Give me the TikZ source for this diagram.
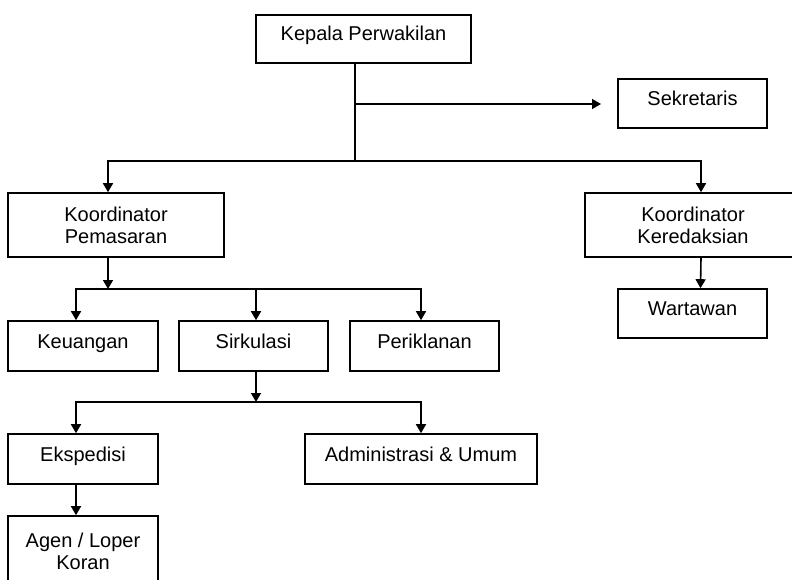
\documentclass[tikz,border=0pt]{standalone}
\usepackage{fontspec}
\setmainfont{Liberation Sans}
\usetikzlibrary{arrows.meta}

\begin{document}
\begin{tikzpicture}[
    x=1pt, y=-1pt,
    >={Triangle[length=9pt, width=10pt]},
    line join=miter,
    boxbase/.style={draw, line width=1.6pt, inner sep=0pt,
        font=\fontsize{20}{22}\selectfont},
    unit/.style={boxbase, text height=14pt, text depth=10pt},
    unittwo/.style={boxbase, align=center},
    link/.style={->, line width=1.6pt}
]
\useasboundingbox (0,0) rectangle (792,580);
\clip (0,0) rectangle (792,580);

% Top level
\node[unit, minimum width=215pt, minimum height=48pt] (kepala) at (363.5,39) {Kepala Perwakilan};
\node[unit, minimum width=149pt, minimum height=49pt] (sekretaris) at (692.5,103.5) {Sekretaris};

% Coordinators
\node[unittwo, minimum width=216pt, minimum height=64pt] (pemasaran) at (116,225) {Koordinator\\Pemasaran};
\node[unittwo, minimum width=216pt, minimum height=64pt] (keredaksian) at (693,225) {Koordinator\\Keredaksian};

% Units under Pemasaran
\node[unit, minimum width=150pt, minimum height=50pt] (keuangan) at (83,346) {Keuangan};
\node[unit, minimum width=149pt, minimum height=50pt] (sirkulasi) at (253.5,346) {Sirkulasi};
\node[unit, minimum width=149pt, minimum height=50pt] (periklanan) at (424.5,346) {Periklanan};
\node[unit, minimum width=149pt, minimum height=49pt] (wartawan) at (692.5,313.5) {Wartawan};

% Units under Sirkulasi
\node[unit, minimum width=150pt, minimum height=50pt] (ekspedisi) at (83,459) {Ekspedisi};
\node[unit, minimum width=232pt, minimum height=50pt] (admin) at (421,459) {Administrasi \& Umum};
\node[unittwo, minimum width=150pt, minimum height=70pt] (agen) at (83,551) {Agen / Loper\\Koran};

% Junction points
\coordinate (split) at (355,104);
\coordinate (sektip) at (601,104);
\coordinate (branch) at (355,161);
\coordinate (hubmkt) at (108,289);
\coordinate (hubsirk) at (256,402);

% Connectors
\draw[line width=1.6pt] (kepala.south -| branch) -- (branch);
\draw[link] (split) -- (sektip);
\draw[link] (branch) -| ([xshift=-8pt]pemasaran.north);
\draw[link] (branch) -| ([xshift=8pt]keredaksian.north);
\draw[link] ([xshift=-8pt]pemasaran.south) -- (hubmkt);
\draw[link] (hubmkt) -| ([xshift=-7pt]keuangan.north);
\draw[link] (hubmkt) -| ([xshift=2.5pt]sirkulasi.north);
\draw[link] (hubmkt) -| ([xshift=-3.5pt]periklanan.north);
\draw[link] ([xshift=2.5pt]sirkulasi.south) -- (hubsirk);
\draw[link] (hubsirk) -| ([xshift=-7pt]ekspedisi.north);
\draw[link] (hubsirk) -| (admin.north);
\draw[link] ([xshift=-7pt]ekspedisi.south) -- ([xshift=-7pt]agen.north);
\draw[link] ([xshift=8pt]keredaksian.south) -- ([xshift=8pt]wartawan.north);

\end{tikzpicture}
\end{document}
